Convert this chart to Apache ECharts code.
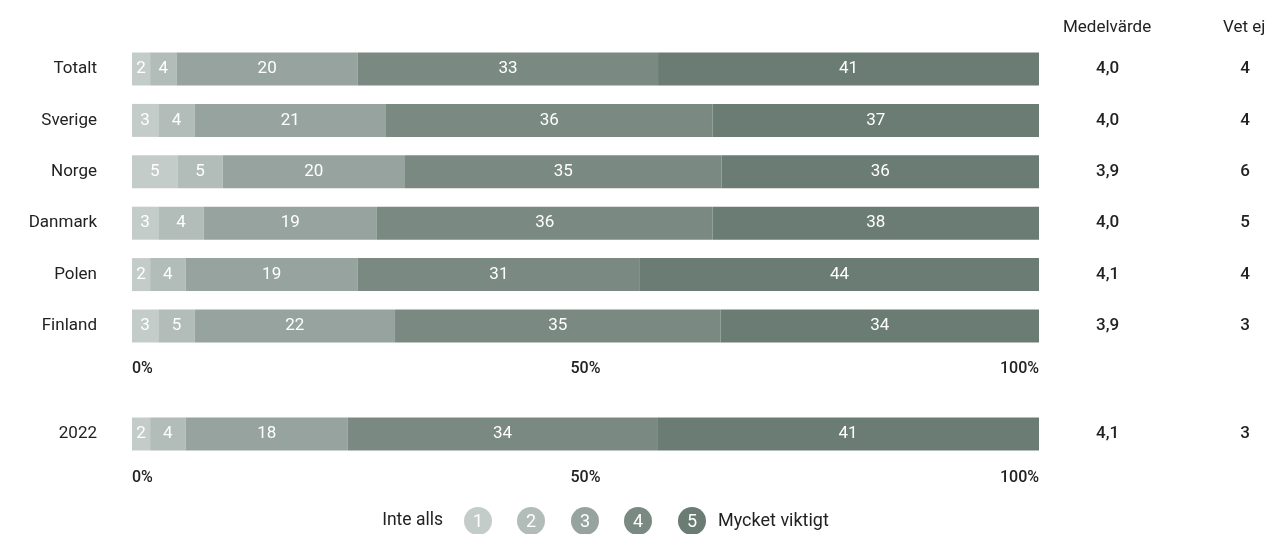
<!DOCTYPE html>
<html>
<head>
<meta charset="utf-8">
<script src="https://cdn.jsdelivr.net/npm/echarts@6/dist/echarts.min.js"></script>
<style>
  html, body { margin: 0; padding: 0; background: #fff; }
  #chart { width: 1272px; height: 534px; }
</style>
</head>
<body>
<div id="chart"></div>
<script>
// rader
var categories = ['Totalt', 'Sverige', 'Norge', 'Danmark', 'Polen', 'Finland'];
// etiketter (avrundade procent per svarsalternativ 1-5)
var etikett1 = [2, 3, 5, 3, 2, 3];
var etikett2 = [4, 4, 5, 4, 4, 5];
var etikett3 = [20, 21, 20, 19, 19, 22];
var etikett4 = [33, 36, 35, 36, 31, 35];
var etikett5 = [41, 37, 36, 38, 44, 34];
// stapellängder (uppmätta i bilden, procent)
var langd1 = [2.0, 2.9, 5.0, 2.9, 2.0, 2.9];
var langd2 = [2.9, 4.0, 5.0, 5.0, 3.9, 4.0];
var langd3 = [20.0, 21.1, 20.1, 19.1, 19.0, 22.1];
var langd4 = [33.1, 36.0, 34.9, 37.0, 31.1, 35.9];
var langd5 = [42.0, 36.0, 35.0, 36.0, 44.0, 35.1];
var medelvarde = ['4,0', '4,0', '3,9', '4,0', '4,1', '3,9'];
var vetEj = ['4', '4', '6', '5', '4', '3'];

var categories2022 = ['2022'];
var etikett2022 = [[2], [4], [18], [34], [41]];
var langd2022 = [[2.0], [3.9], [17.9], [34.1], [42.1]];
var medelvarde2022 = ['4,1'];
var vetEj2022 = ['3'];

var colors = ['#c4ccc9', '#b2bcb8', '#97a39f', '#7a8a83', '#6a7c74'];
var legendNames = ['1', '2', '3', '4', '5'];
var xTicks = { 0: '0%', 50: '50%', 100: '100%' };

var FONT = 'Roboto';

var chart = echarts.init(document.getElementById('chart'));

function pair(lengths, labels) {
    return lengths.map(function (row, i) {
        return row.map(function (v, j) { return { value: v, raw: labels[i][j] }; });
    });
}

var main = pair([langd1, langd2, langd3, langd4, langd5],
                [etikett1, etikett2, etikett3, etikett4, etikett5]);
var y2022 = pair(langd2022, etikett2022);

function xAxisFor(gridIndex, margin) {
    return {
        type: 'value', gridIndex: gridIndex, min: 0, max: 100, interval: 50,
        axisLine: { show: false }, axisTick: { show: false }, splitLine: { show: false },
        axisLabel: {
            margin: margin, color: '#222', fontFamily: FONT, fontSize: 16, fontWeight: 500,
            alignMinLabel: 'left', alignMaxLabel: 'right',
            formatter: function (v) { return xTicks[v]; }
        }
    };
}

function catAxis(gridIndex, data, pos, margin, align, bold) {
    return {
        type: 'category', gridIndex: gridIndex, data: data, inverse: true, position: pos,
        axisLine: { show: false }, axisTick: { show: false },
        axisLabel: {
            margin: margin, align: align, color: '#222', fontFamily: FONT, fontSize: 17,
            fontWeight: bold ? 500 : 400, padding: [3, 0, 0, 0]
        }
    };
}

var series = [];
function addSeries(rows, xi, yi, stack) {
    rows.forEach(function (d, i) {
        series.push({
            type: 'bar', name: legendNames[i], stack: stack, xAxisIndex: xi, yAxisIndex: yi,
            barWidth: 33, data: d,
            itemStyle: { color: colors[i] },
            label: {
                show: true, position: 'inside', color: '#fff', fontFamily: FONT, fontSize: 17,
                formatter: function (p) { return p.data.raw; }
            },
            emphasis: { disabled: true }
        });
    });
}
addSeries(main, 0, 0, 'a');
addSeries(y2022, 1, 3, 'b');

// teckenförklaring
var legendGraphics = [
    { type: 'text', x: 443, y: 521, style: { text: 'Inte alls', font: '17.5px ' + FONT, fill: '#222', align: 'right', verticalAlign: 'middle' } },
    { type: 'text', x: 718, y: 521, style: { text: 'Mycket viktigt', font: '18px ' + FONT, fill: '#222', align: 'left', verticalAlign: 'middle' } }
];
var cx = [478, 531, 585, 638, 692];
legendNames.forEach(function (n, i) {
    legendGraphics.push({ type: 'circle', shape: { cx: cx[i], cy: 521, r: 14 }, style: { fill: colors[i] } });
    legendGraphics.push({
        type: 'text', x: cx[i], y: 522,
        style: { text: n, font: '18px ' + FONT, fill: '#fff', align: 'center', verticalAlign: 'middle' }
    });
});

var option = {
    animation: false,
    grid: [
        { left: 132, right: 233, top: 43.3, height: 308.4 },
        { left: 132, right: 233, top: 408.3, height: 51.4 }
    ],
    xAxis: [xAxisFor(0, 9), xAxisFor(1, 10)],
    yAxis: [
        catAxis(0, categories, 'left', 35, 'right', false),
        catAxis(0, medelvarde, 'right', 57, 'left', true),
        catAxis(0, vetEj, 'right', 206, 'center', true),
        catAxis(1, categories2022, 'left', 35, 'right', false),
        catAxis(1, medelvarde2022, 'right', 57, 'left', true),
        catAxis(1, vetEj2022, 'right', 206, 'center', true)
    ],
    series: series,
    graphic: [
        { type: 'text', x: 1063, y: 28, style: { text: 'Medelvärde', font: '17px ' + FONT, fill: '#222', verticalAlign: 'middle' } },
        { type: 'text', x: 1223, y: 28, style: { text: 'Vet ej', font: '17px ' + FONT, fill: '#222', verticalAlign: 'middle' } }
    ].concat(legendGraphics)
};

chart.setOption(option);
</script>
</body>
</html>
